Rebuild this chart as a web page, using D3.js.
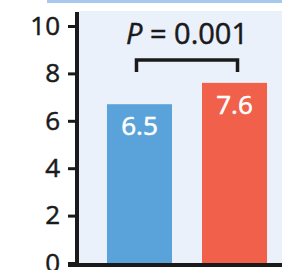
<!DOCTYPE html>
<html>
<head>
<meta charset="utf-8">
<script src="https://cdn.jsdelivr.net/npm/d3@7"></script>
<style>
  html, body { margin: 0; padding: 0; background: #fff; }
  svg { display: block; font-family: "Open Sans", sans-serif; }
</style>
</head>
<body>
<div id="chart"></div>
<script>
const width = 282;
const height = 270;

// data
const categories = ["Control", "Treatment"];
const barValues = [6.7, 7.6];      // bar heights as drawn
const valueLabels = ["6.5", "7.6"]; // printed labels
const barColors = ["#5aa3da", "#f0604a"];
const yTicks = [0, 2, 4, 6, 8, 10];
const pLabel = "0.001";

const svg = d3.select("#chart").append("svg")
  .attr("width", width)
  .attr("height", height);

const y = d3.scaleLinear().domain([0, 10]).range([263, 26]);
const x = d3.scaleBand().domain(categories).range([78, 296])
  .paddingInner(0.316).paddingOuter(0.305);

// top header strip and panel background
svg.append("rect").attr("x", 47).attr("y", 0).attr("width", width - 47).attr("height", 3)
  .attr("fill", "#a8c8ec");
svg.append("rect").attr("x", 79).attr("y", 11).attr("width", width - 79).attr("height", 252)
  .attr("fill", "#eaf1fa");

// bars
svg.append("g").selectAll("rect")
  .data(categories)
  .join("rect")
  .attr("x", d => x(d))
  .attr("width", x.bandwidth())
  .attr("y", (d, i) => y(barValues[i]))
  .attr("height", (d, i) => y(0) - y(barValues[i]))
  .attr("fill", (d, i) => barColors[i]);

// value labels inside bars
svg.append("g").selectAll("text")
  .data(categories)
  .join("text")
  .attr("x", d => x(d) + x.bandwidth() / 2)
  .attr("y", (d, i) => y(barValues[i]) + 31)
  .attr("text-anchor", "middle")
  .attr("fill", "#fff")
  .attr("stroke", "#fff")
  .attr("stroke-width", 0.6)
  .attr("font-size", 26)
  .text((d, i) => valueLabels[i]);

// y axis
const yAxis = d3.axisLeft(y).tickValues(yTicks).tickSize(9).tickPadding(8);
const gy = svg.append("g").attr("transform", "translate(77,0)").call(yAxis);
gy.select(".domain").attr("stroke", "#1a1a1a").attr("stroke-width", 4)
  .attr("d", `M0,${y(10) - 14}V${y(0) + 2}`);
gy.selectAll(".tick line").attr("stroke", "#1a1a1a").attr("stroke-width", 3);
gy.selectAll(".tick text").attr("fill", "#1a1a1a").attr("font-size", 26)
  .attr("stroke", "#1a1a1a").attr("stroke-width", 0.5)
  .attr("font-family", "Open Sans, sans-serif");

// x axis baseline
svg.append("line")
  .attr("x1", 68).attr("x2", width)
  .attr("y1", y(0) + 2).attr("y2", y(0) + 2)
  .attr("stroke", "#1a1a1a").attr("stroke-width", 4);

// significance bracket
const xl = x(categories[0]) + x.bandwidth() / 2 - 3;
const xr = x(categories[1]) + x.bandwidth() / 2 + 3;
svg.append("path")
  .attr("d", `M${xl},72V60H${xr}V72`)
  .attr("fill", "none")
  .attr("stroke", "#1a1a1a")
  .attr("stroke-width", 3.5);

const pText = svg.append("text")
  .attr("x", (xl + xr) / 2)
  .attr("y", 44)
  .attr("text-anchor", "middle")
  .attr("font-size", 29)
  .attr("fill", "#1a1a1a")
  .attr("stroke", "#1a1a1a")
  .attr("stroke-width", 0.5);
pText.append("tspan").attr("font-style", "italic").text("P");
pText.append("tspan").text(" = " + pLabel);
</script>
</body>
</html>
